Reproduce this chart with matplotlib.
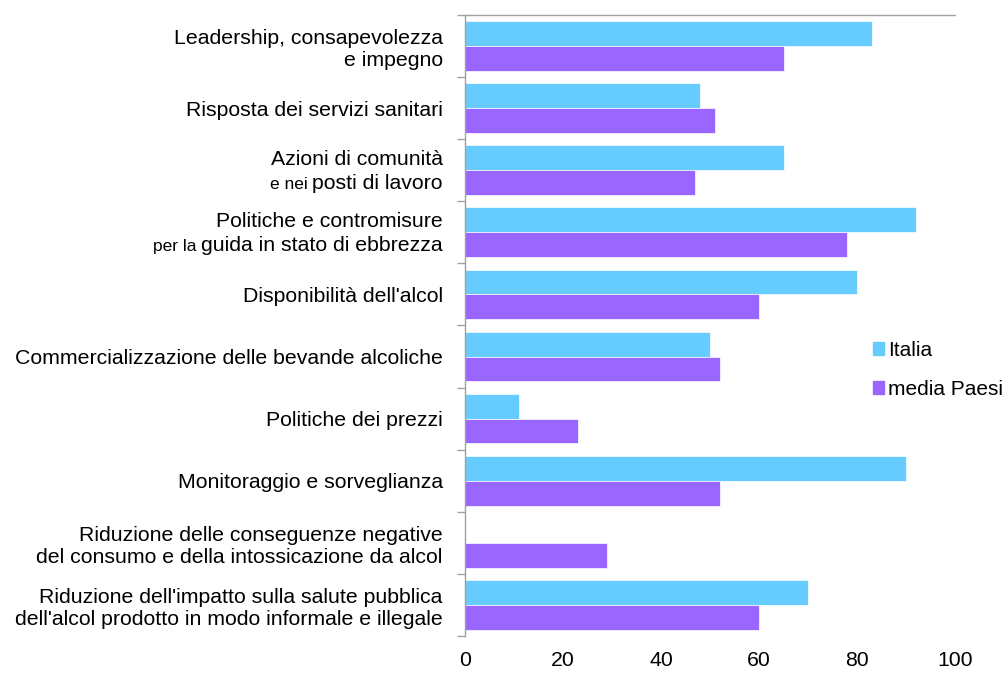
import numpy as np
import matplotlib
matplotlib.use("Agg")
import matplotlib.pyplot as plt
import matplotlib.transforms as mtransforms
from matplotlib.patches import Patch

plt.rcParams["font.family"] = ["Liberation Sans", "DejaVu Sans"]

categories = [
    "Leadership, consapevolezza\ne impegno",
    "Risposta dei servizi sanitari",
    "Azioni di comunità\nposti di lavoro",
    "Politiche e contromisure\nguida in stato di ebbrezza",
    "Disponibilità dell'alcol",
    "Commercializzazione delle bevande alcoliche",
    "Politiche dei prezzi",
    "Monitoraggio e sorveglianza",
    "Riduzione delle conseguenze negative\ndel consumo e della intossicazione da alcol",
    "Riduzione dell'impatto sulla salute pubblica\ndell'alcol prodotto in modo informale e illegale",
]
# smaller words in front of the second line of some labels
small_prefix = {2: "e nei", 3: "per la"}
italia = [83, 48, 65, 92, 80, 50, 11, 90, 0, 70]
media_paesi = [65, 51, 47, 78, 60, 52, 23, 52, 29, 60]
xticks = [0, 20, 40, 60, 80, 100]

c_it = "#66CCFF"
c_mp = "#9966FF"
grey = "#A0A0A0"
fs = 15.3
fs_small = 12.5
pad = 16

fig = plt.figure(figsize=(10.05, 6.75), dpi=100)
ax = fig.add_axes([0.4627, 0.0578, 0.4876, 0.9200])

y = np.arange(len(categories))
h = 0.4
ax.barh(y - h / 2, italia, height=h, color=c_it, edgecolor="white", linewidth=0.5, label="Italia")
ax.barh(y + h / 2, media_paesi, height=h, color=c_mp, edgecolor="white", linewidth=0.5, label="media Paesi")

ax.set_ylim(len(categories) - 0.5, -0.5)
ax.set_xlim(0, 100)
ax.set_yticks(y)
ticklabels = ["" if i in small_prefix else c for i, c in enumerate(categories)]
ax.set_yticklabels(ticklabels, fontsize=fs, linespacing=1.2)
ax.set_yticks(np.arange(-0.5, len(categories), 1), minor=True)
ax.tick_params(axis="y", which="major", length=0, pad=pad)
ax.tick_params(axis="y", which="minor", length=6, direction="out", color=grey, width=1)

ax.set_xticks(xticks)
ax.set_xticklabels([str(t) for t in xticks], fontsize=fs)
ax.tick_params(axis="x", length=0, pad=11)

for s in ["right", "bottom"]:
    ax.spines[s].set_visible(False)
for s in ["top", "left"]:
    ax.spines[s].set_color(grey)
    ax.spines[s].set_linewidth(1)

# labels with a smaller prefix on their second line are drawn piece by piece
fig.canvas.draw()
renderer = fig.canvas.get_renderer()
trans = ax.get_yaxis_transform()
xpad = -pad * 100 / 72
for i, prefix in small_prefix.items():
    first, second = categories[i].split("\n")
    o1 = mtransforms.offset_copy(trans, fig=fig, x=xpad, y=5.5, units="dots")
    ax.text(0, i, first, transform=o1, fontsize=fs, ha="right", va="baseline")
    o2 = mtransforms.offset_copy(trans, fig=fig, x=xpad, y=-19, units="dots")
    t2 = ax.text(0, i, second, transform=o2, fontsize=fs, ha="right", va="baseline")
    w = t2.get_window_extent(renderer).width
    o3 = mtransforms.offset_copy(trans, fig=fig, x=xpad - w - 5, y=-19, units="dots")
    ax.text(0, i, prefix, transform=o3, fontsize=fs_small, ha="right", va="baseline")

handles = [Patch(color=c_it, label="Italia"), Patch(color=c_mp, label="media Paesi")]
fig.legend(handles=handles, loc="upper left", bbox_to_anchor=(0.860, 0.507),
           frameon=False, fontsize=15, handlelength=0.55, handleheight=0.55,
           handletextpad=0.2, labelspacing=0.95, borderaxespad=0)

fig.savefig("out.png", dpi=100)
